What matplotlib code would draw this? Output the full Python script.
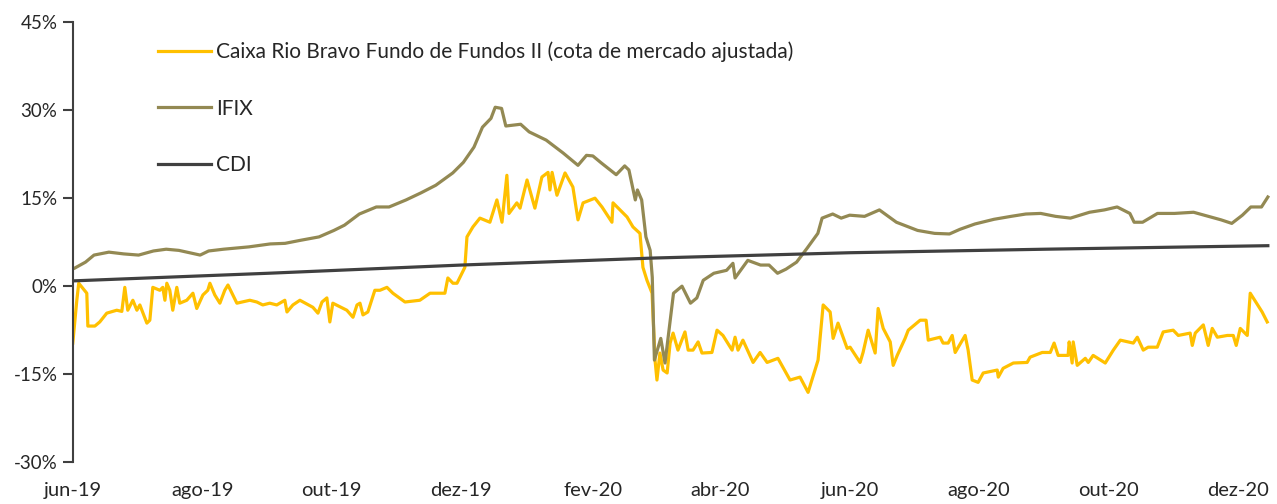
import pandas as pd
import matplotlib.pyplot as plt
import matplotlib.ticker as mticker

inicio = pd.Timestamp('2019-06-01')

# Caixa Rio Bravo Fundo de Fundos II (cota de mercado ajustada) - dias desde 01/06/2019, retorno %
dias_fundo = [0.0, 1.9, 2.8, 6.6, 7.1, 10.4, 12.7, 16.0, 20.7, 23.1, 24.5, 25.9, 28.3, 30.2, 31.6,
              34.9, 36.3, 37.7, 41.0, 42.4, 43.4, 44.3, 45.7, 47.1, 49.0, 50.4, 53.7, 56.6, 58.4,
              61.3, 63.6, 64.6, 66.9, 69.3, 71.6, 73.1, 75.4, 77.3, 83.4, 86.7, 89.5, 92.8, 96.1,
              99.9, 100.9, 103.7, 107.0, 113.1, 115.5, 117.4, 119.7, 121.1, 122.5, 129.1, 132.0,
              133.9, 135.3, 136.7, 139.0, 142.3, 144.7, 148.0, 150.8, 156.5, 163.5, 168.3, 175.3,
              176.7, 179.1, 181.0, 183.3, 184.7, 185.7, 188.5, 191.8, 196.5, 199.8, 202.2, 204.5,
              205.5, 209.2, 210.7, 214.0, 217.7, 221.0, 223.9, 224.8, 225.8, 228.1, 231.9, 235.6,
              238.0, 240.4, 246.0, 249.3, 254.0, 254.5, 261.1, 263.9, 267.2, 268.6, 270.5, 272.9,
              274.3, 275.2, 276.6, 278.1, 280.0, 281.4, 282.8, 285.1, 288.4, 289.9, 292.2, 294.6,
              296.4, 301.1, 303.5, 306.3, 310.6, 312.0, 313.4, 315.7, 320.5, 323.8, 327.1, 332.2,
              337.9, 342.6, 346.4, 351.1, 353.5, 356.8, 358.2, 360.5, 364.8, 366.2, 370.9, 372.3,
              374.7, 378.0, 379.4, 381.8, 385.1, 386.5, 388.4, 392.1, 393.6, 399.2, 402.0, 403.0,
              408.6, 410.0, 412.4, 414.3, 415.7, 420.4, 421.8, 423.7, 426.5, 428.9, 435.5, 436.0,
              438.3, 443.1, 449.6, 451.0, 456.7, 460.5, 462.3, 464.2, 468.9, 469.4, 470.8, 471.3,
              473.2, 477.0, 478.4, 480.7, 486.4, 490.2, 493.5, 499.6, 501.5, 504.3, 506.6, 510.9,
              513.7, 518.4, 520.8, 526.4, 527.4, 528.8, 532.6, 534.9, 536.8, 539.2, 543.9, 546.7,
              548.1, 550.0, 553.3, 554.7, 560.3, 562.7]
ret_fundo = [-9.7, -2.4, 0.5, -1.2, -6.8, -6.8, -6.1, -4.6, -4.1, -4.3, -0.2, -4.1, -2.4, -4.1, -3.2,
             -6.3, -5.8, -0.2, -0.7, -0.2, -2.4, 0.5, -0.7, -4.1, -0.2, -2.9, -2.4, -1.2, -3.8,
             -1.5, -0.7, 0.5, -1.5, -2.9, -0.7, 0.2, -1.5, -2.9, -2.4, -2.7, -3.2, -2.9, -3.2,
             -2.4, -4.4, -3.2, -2.4, -3.6, -4.6, -2.7, -2.0, -6.1, -2.9, -4.1, -5.3,
             -3.2, -2.9, -4.9, -4.4, -0.7, -0.7, -0.2, -1.2, -2.7, -2.4, -1.2, -1.2,
             1.4, 0.5, 0.5, 2.2, 3.2, 8.4, 10.1, 11.6, 10.9, 14.7, 10.9, 18.9,
             12.4, 14.2, 13.3, 18.1, 13.3, 18.6, 19.4, 16.4, 19.4, 15.5, 19.3, 16.9,
             11.3, 14.2, 15.0, 13.5, 10.9, 14.2, 11.8, 10.1, 9.0, 3.2, 1.0, -1.2,
             -12.6, -16.0, -11.4, -14.3, -14.8, -9.7, -8.0, -10.9, -7.8, -10.9, -10.9, -9.5,
             -11.4, -11.3, -7.5, -8.4, -10.9, -8.7, -10.9, -9.2, -13.0, -11.3, -13.0, -12.3,
             -16.0, -15.5, -18.1, -12.6, -3.2, -4.4, -8.9, -6.3, -10.6, -10.4, -13.0, -11.3,
             -7.5, -11.4, -3.8, -7.2, -9.5, -13.5, -11.8, -8.9, -7.5, -5.8, -5.8, -9.2,
             -8.7, -9.7, -9.7, -8.4, -11.3, -8.4, -10.9, -16.0, -16.4, -14.8, -14.3, -15.5,
             -14.0, -13.1, -13.0, -12.1, -11.3, -11.3, -9.7, -11.8, -11.8, -9.5, -13.1, -9.5,
             -13.5, -12.3, -13.0, -11.8, -13.1, -10.9, -9.2, -9.7, -8.7, -10.9, -10.4, -10.4,
             -7.8, -7.5, -8.4, -8.0, -10.1, -8.0, -6.6, -10.1, -7.2, -8.7, -8.4, -8.4,
             -10.1, -7.2, -8.4, -1.2, -4.4, -6.1]

# IFIX
dias_ifix = [1, 6, 10, 17, 24, 31, 38, 44, 50, 60, 64, 71, 83, 93, 100, 107, 116, 123, 128, 135,
             143, 149, 157, 164, 171, 179, 184, 189, 193, 197, 199, 202, 204, 211, 215, 223, 231,
             238, 242, 245, 249, 256, 260, 262, 265, 266, 268, 270, 272, 273, 274, 277, 279, 283,
             287, 291, 294, 297, 302, 308, 311, 312, 318, 324, 328, 332, 336, 341, 346, 351, 353,
             358, 362, 366, 373, 380, 388, 398, 406, 413, 418, 425, 434, 442, 449, 456, 463, 470,
             479, 486, 492, 498, 500, 504, 511, 519, 528, 536, 541, 546, 551, 555, 560, 563]
ret_ifix = [3.1, 4.1, 5.3, 5.8, 5.5, 5.3, 6.0, 6.3, 6.1, 5.3, 6.0, 6.3, 6.7, 7.2, 7.3, 7.8, 8.4, 9.5,
            10.4, 12.3, 13.5, 13.5, 14.7, 15.9, 17.2, 19.3, 21.1, 23.7, 27.1, 28.6, 30.5, 30.3, 27.3,
            27.6, 26.3, 24.9, 22.7, 20.6, 22.3, 22.2, 21.0, 19.0, 20.5, 19.8, 14.7, 16.4, 14.7, 8.4,
            6.1, 1.5, -12.6, -8.9, -13.1, -1.2, 0.0, -2.9, -2.0, 1.0, 2.2, 2.7, 3.9, 1.4, 4.4, 3.6,
            3.6, 2.2, 2.9, 4.1, 6.5, 9.0, 11.6, 12.3, 11.6, 12.1, 11.9, 13.0, 10.9, 9.5, 9.0, 8.9,
            9.7, 10.6, 11.4, 11.9, 12.3, 12.4, 11.9, 11.6, 12.6, 13.0, 13.5, 12.4, 10.9, 10.9, 12.4,
            12.4, 12.6, 11.8, 11.3, 10.7, 12.1, 13.5, 13.5, 15.2]

# CDI
dias_cdi = [0, 92, 183, 274, 366, 458, 563]
ret_cdi = [0.9, 2.2, 3.6, 4.8, 5.7, 6.3, 6.9]

meses_ticks = ['2019-06-01', '2019-08-01', '2019-10-01', '2019-12-01', '2020-02-01', '2020-04-01',
               '2020-06-01', '2020-08-01', '2020-10-01', '2020-12-01']
rotulos_ticks = ['jun-19', 'ago-19', 'out-19', 'dez-19', 'fev-20', 'abr-20',
                 'jun-20', 'ago-20', 'out-20', 'dez-20']

cor_texto = '#262626'
plt.rcParams['font.family'] = ['Lato', 'DejaVu Sans']

fig = plt.figure(figsize=(12.77, 5.04), dpi=100)
ax = fig.add_axes([0.057, 0.083, 0.9375, 0.873])


def datas(dias):
    return inicio + pd.to_timedelta(dias, unit='D')


ax.plot(datas(dias_fundo), ret_fundo, color='#FFC000', lw=2.3,
        label='Caixa Rio Bravo Fundo de Fundos II (cota de mercado ajustada)')
ax.plot(datas(dias_ifix), ret_ifix, color='#938953', lw=2.3, label='IFIX')
ax.plot(datas(dias_cdi), ret_cdi, color='#404040', lw=2.3, label='CDI')

ax.set_ylim(-30, 45)
ax.set_yticks(range(-30, 46, 15))
ax.yaxis.set_major_formatter(mticker.FuncFormatter(lambda v, p: f'{v:.0f}%'))
ax.set_xlim(inicio, inicio + pd.Timedelta(days=564))
ax.set_xticks(pd.to_datetime(meses_ticks))
ax.set_xticklabels(rotulos_ticks)

for s in ['top', 'right', 'bottom']:
    ax.spines[s].set_visible(False)
ax.spines['left'].set_color('#404040')
ax.spines['left'].set_linewidth(1.5)
ax.tick_params(axis='y', length=7, width=1.5, color='#404040', labelsize=13.5, labelcolor=cor_texto, pad=4)
ax.tick_params(axis='x', length=0, labelsize=14.5, labelcolor=cor_texto, pad=14)

leg = ax.legend(loc='upper left', bbox_to_anchor=(0.064, 0.975), frameon=False, fontsize=15,
                handlelength=2.55, handletextpad=0.25, labelspacing=1.75, borderaxespad=0)
for t in leg.get_texts():
    t.set_color(cor_texto)

fig.savefig('out.png', dpi=100)
